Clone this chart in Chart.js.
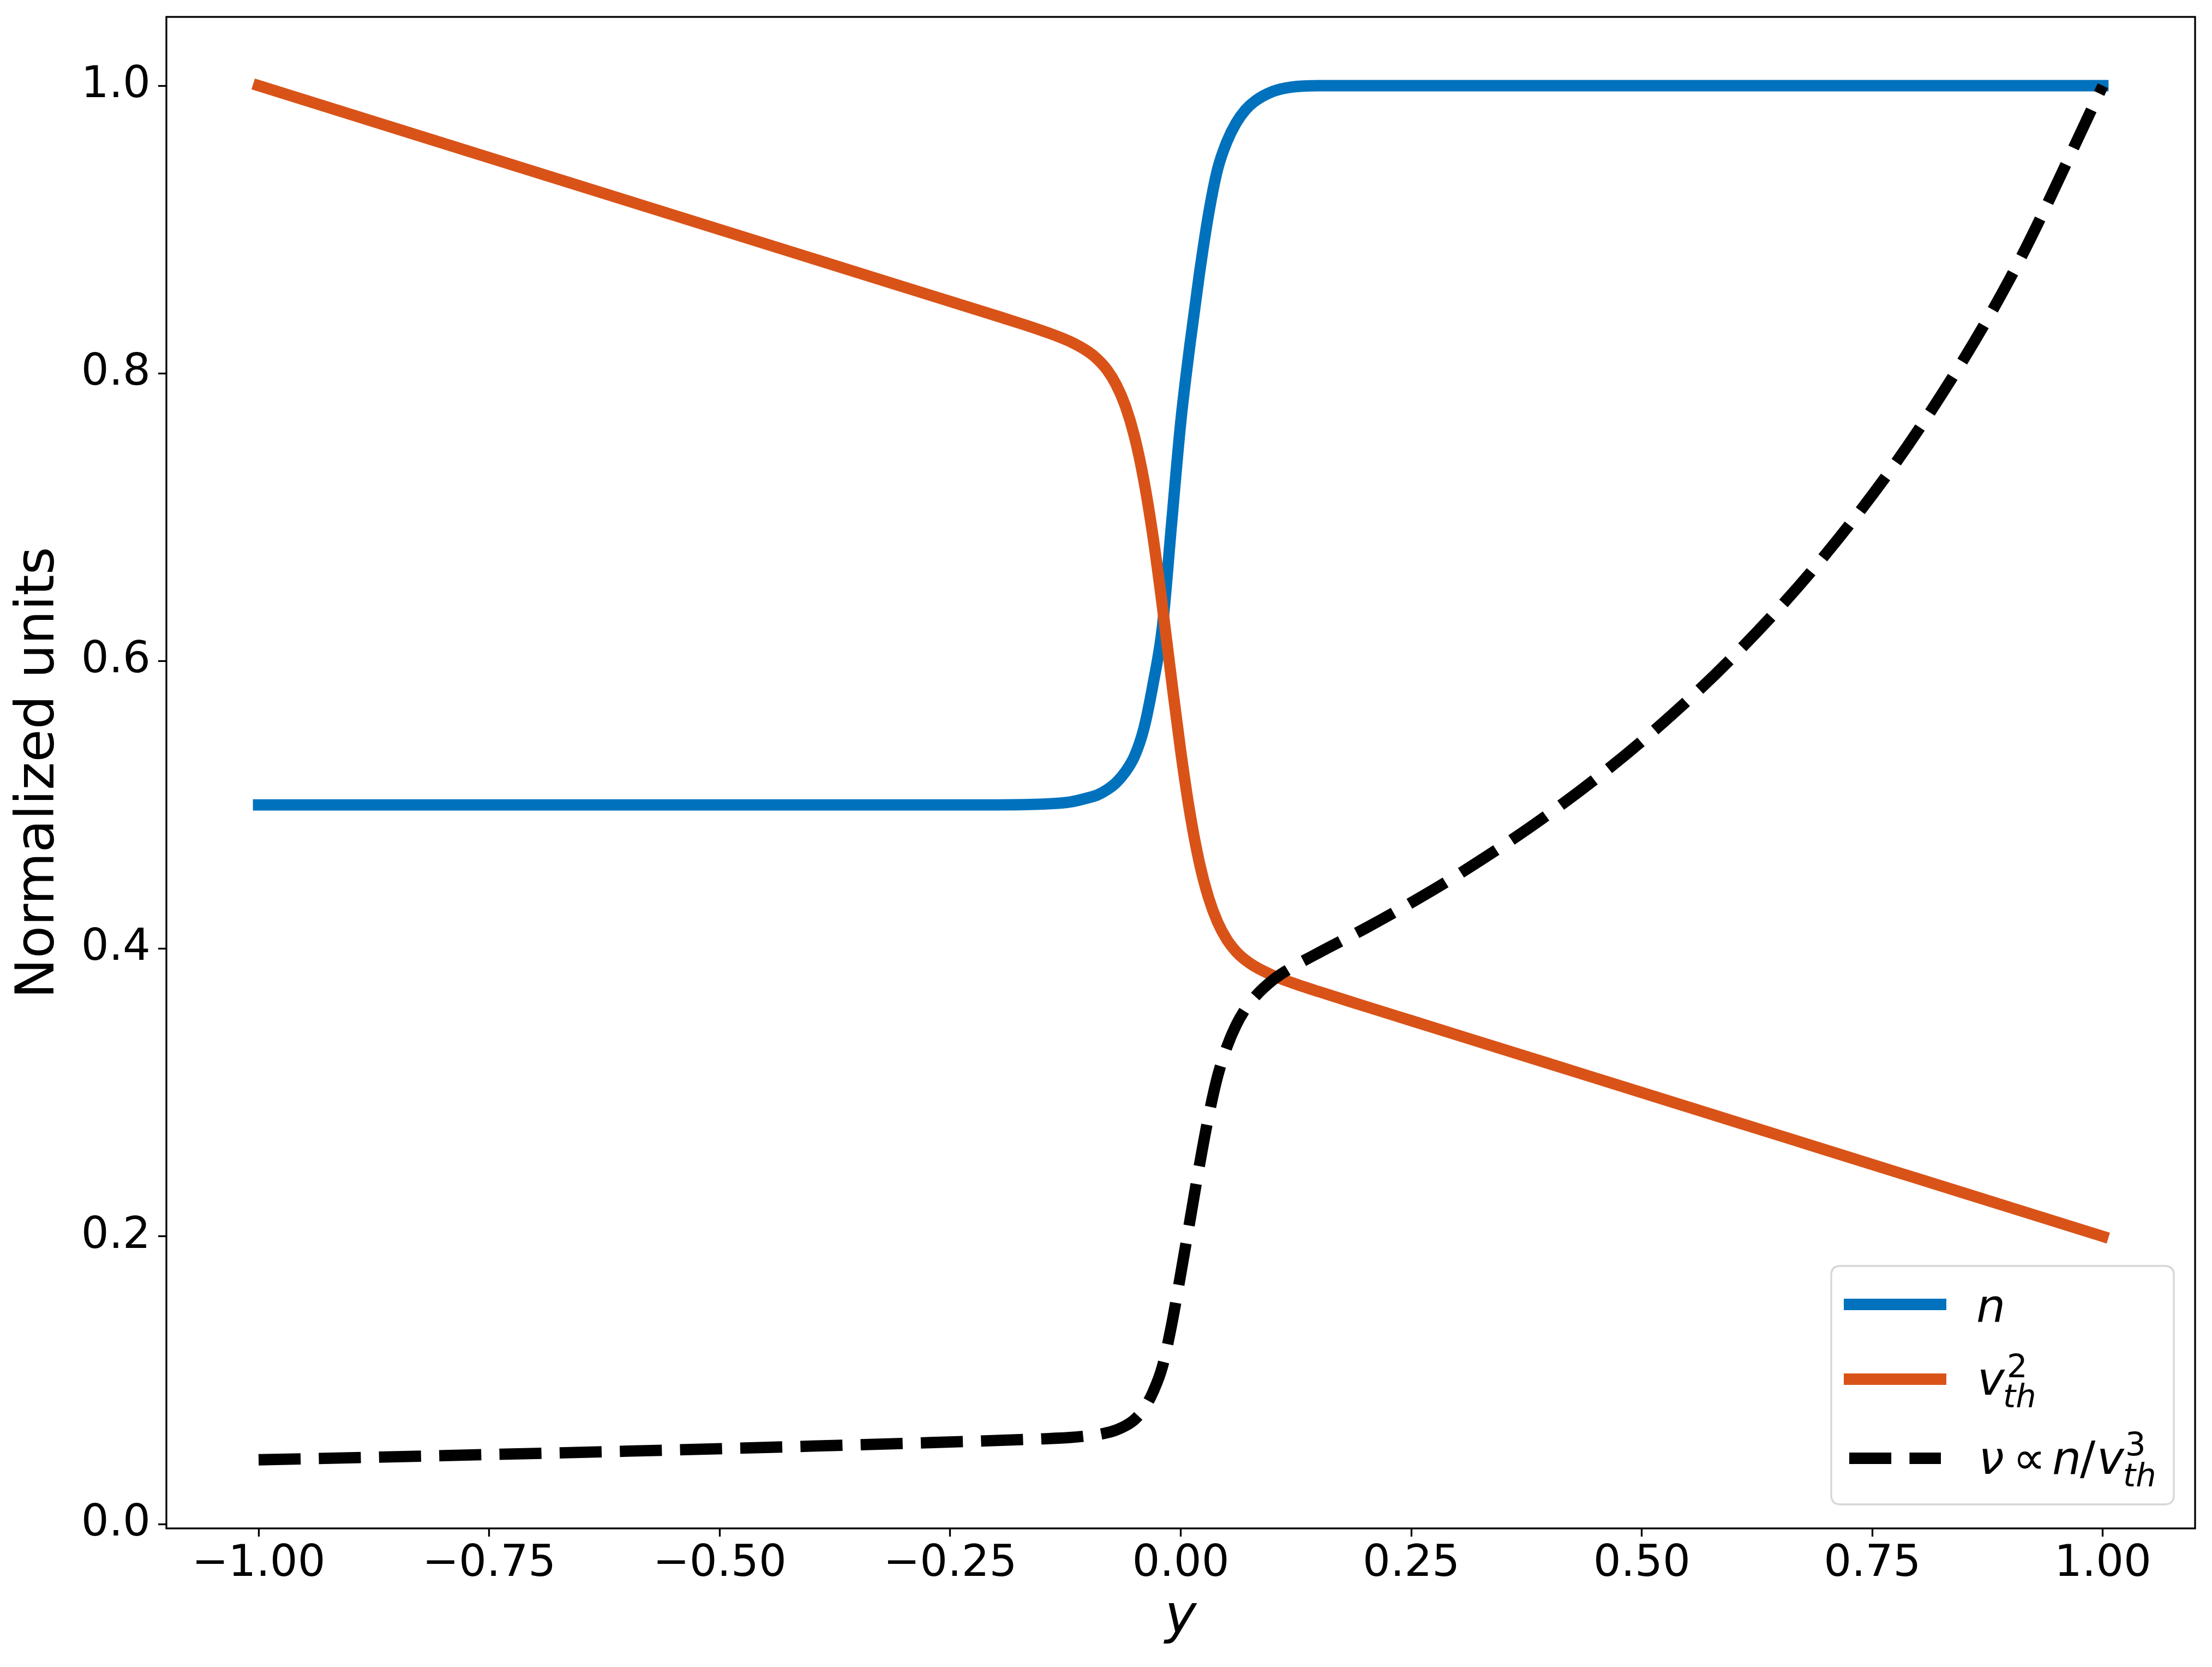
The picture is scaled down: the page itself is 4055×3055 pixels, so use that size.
<!DOCTYPE html>
<html>
<head>
<meta charset="utf-8">
<script src="https://cdn.jsdelivr.net/npm/chart.js@4.4.0/dist/chart.umd.min.js"></script>
<style>
  html, body { margin: 0; padding: 0; background: #fff; }
  #wrap { width: 4055px; height: 3055px; }
</style>
</head>
<body>
<div id="wrap"><canvas id="profileChart" width="4055" height="3055"></canvas></div>
<script>
// positions across the layer (y), denser near the jump
const yPos = [-1.0, -0.8, -0.6, -0.4, -0.3, -0.2, -0.15, -0.12, -0.10, -0.09,
              -0.08, -0.07, -0.06, -0.05, -0.04, -0.03, -0.02, -0.01, 0.00, 0.01,
              0.02, 0.03, 0.04, 0.05, 0.06, 0.07, 0.08, 0.10, 0.12, 0.15,
              0.20, 0.25, 0.30, 0.40, 0.50, 0.60, 0.70, 0.80, 0.90, 1.00];

// density n
const densityN = [0.500, 0.500, 0.500, 0.500, 0.500, 0.500, 0.5005, 0.502, 0.505, 0.507,
                  0.5105, 0.5155, 0.523, 0.534, 0.553, 0.584, 0.623, 0.695, 0.766, 0.820,
                  0.868, 0.910, 0.942, 0.961, 0.974, 0.983, 0.989, 0.996, 0.999, 1.000,
                  1.000, 1.000, 1.000, 1.000, 1.000, 1.000, 1.000, 1.000, 1.000, 1.000];

// thermal speed squared v_th^2
const vth2 = [1.000, 0.960, 0.920, 0.880, 0.860, 0.840, 0.8296, 0.8221, 0.8149, 0.8097,
              0.8025, 0.7921, 0.7772, 0.7557, 0.7256, 0.6862, 0.6386, 0.5870, 0.5372, 0.4942,
              0.4604, 0.4358, 0.4184, 0.4064, 0.3981, 0.3922, 0.3878, 0.3814, 0.3765, 0.3701,
              0.360, 0.350, 0.340, 0.320, 0.300, 0.280, 0.260, 0.240, 0.220, 0.200];

// collision frequency nu ~ n / v_th^3 (normalised)
const collFreq = [0.0447, 0.0476, 0.0507, 0.0542, 0.0561, 0.0581, 0.0593, 0.0602, 0.0614, 0.0622,
                  0.0635, 0.0654, 0.0683, 0.0727, 0.0800, 0.0919, 0.1092, 0.1382, 0.1740, 0.2111,
                  0.2485, 0.2829, 0.3114, 0.3317, 0.3468, 0.3580, 0.3663, 0.3783, 0.3868, 0.3973,
                  0.4141, 0.4320, 0.4512, 0.4941, 0.5443, 0.6037, 0.6747, 0.7607, 0.8668, 1.0000];

const xTickVals = [-1.0, -0.75, -0.5, -0.25, 0.0, 0.25, 0.5, 0.75, 1.0];
const yTickVals = [0.0, 0.2, 0.4, 0.6, 0.8, 1.0];

const FONT = '"DejaVu Sans", sans-serif';

function toPoints(vals) {
    return yPos.map((y, i) => ({ x: y, y: vals[i] }));
}

function fmtTick(v, digits) {
    const s = Math.abs(v).toFixed(digits);
    return v < -1e-9 ? '\u2212' + s : s;
}

// all four spines, drawn over the curves like matplotlib does
const axesFrame = {
    id: 'axesFrame',
    afterDatasetsDraw(chart) {
        const { ctx, chartArea: a } = chart;
        ctx.save();
        ctx.lineWidth = 3.3;
        ctx.strokeStyle = '#000';
        ctx.strokeRect(a.left, a.top, a.right - a.left, a.bottom - a.top);
        ctx.restore();
    }
};

// legend in the lower right corner, with the math labels
const mathLegend = {
    id: 'mathLegend',
    afterDraw(chart) {
        const c = chart.ctx, a = chart.chartArea;
        const w = 628, h = 437, r = 17;
        const L = a.right - 39 - w, T = a.bottom - 44 - h;
        c.save();
        c.beginPath();
        c.moveTo(L + r, T);
        c.lineTo(L + w - r, T);
        c.quadraticCurveTo(L + w, T, L + w, T + r);
        c.lineTo(L + w, T + h - r);
        c.quadraticCurveTo(L + w, T + h, L + w - r, T + h);
        c.lineTo(L + r, T + h);
        c.quadraticCurveTo(L, T + h, L, T + h - r);
        c.lineTo(L, T + r);
        c.quadraticCurveTo(L, T, L + r, T);
        c.closePath();
        c.fillStyle = 'rgba(255,255,255,0.8)';
        c.fill();
        c.lineWidth = 3.3;
        c.strokeStyle = 'rgba(204,204,204,0.8)';
        c.stroke();

        const rows = [70.5, 207.5, 352.5];
        chart.data.datasets.forEach((d, i) => {
            const dashed = !!d.borderDash;
            c.beginPath();
            c.lineWidth = d.borderWidth;
            c.strokeStyle = d.borderColor;
            c.lineCap = 'butt';
            c.setLineDash(dashed ? d.borderDash : []);
            c.moveTo(L + (dashed ? 33 : 23), T + rows[i]);
            c.lineTo(L + (dashed ? 201 : 211), T + rows[i]);
            c.stroke();
        });
        c.setLineDash([]);

        c.fillStyle = '#000';
        c.textBaseline = 'alphabetic';
        c.textAlign = 'left';
        const it = s => 'italic ' + s + 'px ' + FONT;
        const up = s => s + 'px ' + FONT;
        const put = (txt, font, dx, dy) => { c.font = font; c.fillText(txt, L + dx, T + dy); };

        put('n', it(84), 266, 102);

        put('v', it(84), 268, 236);
        put('2', up(59), 322, 204);
        put('th', it(59), 315, 259);

        put('\u03BD', it(84), 270, 381);
        put('\u221D', up(84), 333, 381);
        put('n', it(84), 405, 381);
        put('/', up(84), 456, 381);
        put('v', it(84), 487, 381);
        put('3', up(59), 539, 347);
        put('th', it(59), 535, 404);
        c.restore();
    }
};

const ctx = document.getElementById('profileChart');

new Chart(ctx, {
    type: 'line',
    data: {
        datasets: [
            {
                label: 'n',
                data: toPoints(densityN),
                borderColor: '#0072BD',
                borderWidth: 20.8,
                borderCapStyle: 'square',
                borderJoinStyle: 'round',
                pointRadius: 0,
                cubicInterpolationMode: 'monotone',
                order: 3
            },
            {
                label: 'v_th^2',
                data: toPoints(vth2),
                borderColor: '#D95319',
                borderWidth: 20.8,
                borderCapStyle: 'square',
                borderJoinStyle: 'round',
                pointRadius: 0,
                cubicInterpolationMode: 'monotone',
                order: 2
            },
            {
                label: 'nu ~ n/v_th^3',
                data: toPoints(collFreq),
                borderColor: '#000000',
                borderWidth: 20.8,
                borderDash: [77.1, 33.3],
                borderCapStyle: 'butt',
                borderJoinStyle: 'round',
                pointRadius: 0,
                cubicInterpolationMode: 'monotone',
                order: 1
            }
        ]
    },
    options: {
        responsive: false,
        devicePixelRatio: 1,
        animation: false,
        events: [],
        layout: { padding: { top: 31, right: 31, left: 0, bottom: 0 } },
        scales: {
            x: {
                type: 'linear',
                min: -1.1,
                max: 1.1,
                afterBuildTicks: s => { s.ticks = xTickVals.map(v => ({ value: v })); },
                afterFit: s => { s.height = 254; s.paddingLeft = 0; s.paddingRight = 0; },
                ticks: {
                    autoSkip: false,
                    maxRotation: 0,
                    padding: 11,
                    color: '#000',
                    font: { family: FONT, size: 80, lineHeight: 1 },
                    callback: v => fmtTick(v, 2)
                },
                grid: { drawOnChartArea: false, drawTicks: true, tickLength: 15, tickWidth: 3.3, tickColor: '#000' },
                border: { display: false },
                title: {
                    display: true,
                    text: 'y',
                    color: '#000',
                    font: { family: FONT, size: 98, style: 'italic', lineHeight: 1 },
                    padding: { top: 0, bottom: 39 }
                }
            },
            y: {
                type: 'linear',
                min: -0.0030,
                max: 1.0478,
                afterBuildTicks: s => { s.ticks = yTickVals.map(v => ({ value: v })); },
                afterFit: s => { s.width = 305; s.paddingTop = 0; s.paddingBottom = 0; },
                ticks: {
                    autoSkip: false,
                    padding: 14,
                    color: '#000',
                    font: { family: FONT, size: 80, lineHeight: 1 },
                    callback: v => fmtTick(v, 1)
                },
                grid: { drawOnChartArea: false, drawTicks: true, tickLength: 15, tickWidth: 3.3, tickColor: '#000' },
                border: { display: false },
                title: {
                    display: true,
                    text: 'Normalized units',
                    color: '#000',
                    font: { family: FONT, size: 98, lineHeight: 1 },
                    padding: { top: 24, bottom: 0 }
                }
            }
        },
        plugins: {
            legend: { display: false },
            tooltip: { enabled: false }
        }
    },
    plugins: [axesFrame, mathLegend]
});
</script>
</body>
</html>
